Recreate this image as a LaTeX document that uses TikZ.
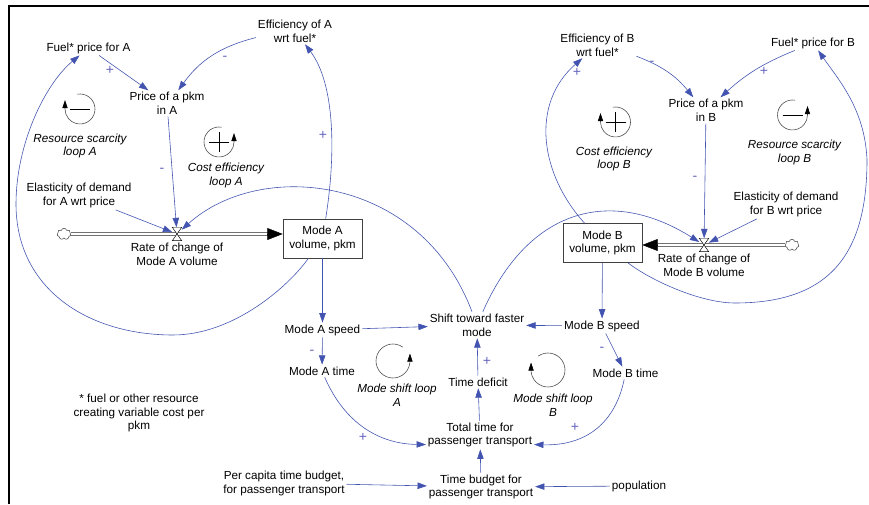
\documentclass[tikz,border=0pt]{standalone}
\usepackage{fontspec}
\setmainfont{Liberation Sans}
\usetikzlibrary{arrows.meta,shapes.symbols}
\definecolor{linkblue}{RGB}{66,84,176}
\definecolor{signblue}{RGB}{100,100,190}

\begin{document}
\begin{tikzpicture}[x=0.03cm, y=0.03cm,
    every node/.style={font=\fontsize{10}{11.9}\selectfont, align=center, inner sep=1.5pt},
    link/.style={draw=linkblue, line width=0.5pt, -{Triangle[length=8pt, width=5.5pt]}},
    sign/.style={text=signblue, font=\fontsize{12}{14}\selectfont},
    looplabel/.style={font=\fontsize{10}{11.9}\selectfont\itshape},
    loopline/.style={draw=black!70, line width=0.5pt, -{Triangle[length=7pt, width=4.5pt, color=black]}},
    stock/.style={draw=black!75, line width=0.5pt, minimum width=2.37cm, minimum height=1.17cm},
    pipe/.style={draw=black!85, line width=0.55pt, double=white, double distance=2.2pt},
    flowtip/.style={line width=0.4pt, -{Triangle[length=13pt, width=10pt]}},
    valve/.style={minimum width=0.27cm, minimum height=0.39cm, inner sep=0},
    source/.style={cloud, cloud puffs=7, aspect=1.2, draw=black!80, line width=0.4pt, minimum width=0.42cm, minimum height=0.34cm, inner sep=0}]

\useasboundingbox (0,0) rectangle (869,504);
\draw [line width=1.5pt] (9,0) -- (9,498) -- (869,498);

\node (fuelA) at (88.5,456) {Fuel* price for A};
\node (effA) at (295,473) {Efficiency of A\\wrt fuel*};
\node (priceA) at (167,400.5) {Price of a pkm\\in A};
\node (elastA) at (79,308.5) {Elasticity of demand\\for A wrt price};
\node [source] (cA) at (64,270) {};
\node [valve] (vA) at (177,270) {};
\node [stock] (volA) at (322.5,265.5) {Mode A\\volume, pkm};
\node [below] (rateA) at (vA.south) {Rate of change of\\Mode A volume};

\node (effB) at (597.5,459) {Efficiency of B\\wrt fuel*};
\node (fuelB) at (813,461) {Fuel* price for B};
\node (priceB) at (706,393.5) {Price of a pkm\\in B};
\node (elastB) at (786,299.5) {Elasticity of demand\\for B wrt price};
\node [source] (cB) at (792,259) {};
\node [valve] (vB) at (704,259) {};
\node [stock] (volB) at (602.5,261) {Mode B\\volume, pkm};
\node [below] (rateB) at (vB.south) {Rate of change of\\Mode B volume};

\node (speedA) at (322.5,174) {Mode A speed};
\node (timeA) at (322,133) {Mode A time};
\node (shift) at (477,179) {Shift toward faster\\mode};
\node (speedB) at (602,178) {Mode B speed};
\node (timeB) at (625.5,131) {Mode B time};
\node (deficit) at (478,122) {Time deficit};
\node (total) at (480,69) {Total time for\\passenger transport};
\node (budget) at (481,17) {Time budget for\\passenger transport};
\node (percap) at (284,21) {Per capita time budget,\\for passenger transport};
\node (pop) at (639,18) {population};
\node (note) at (139,91) {* fuel or other resource\\creating variable cost per\\pkm};

\coordinate (inA) at (cA -| volA.west);
\coordinate (inB) at (cB -| volB.east);
\draw [pipe, shorten >=12pt] (cA) -- (inA);
\draw [flowtip] ([xshift=-13pt]inA) -- (inA);
\draw [pipe, shorten >=12pt] (cB) -- (inB);
\draw [flowtip] ([xshift=13pt]inB) -- (inB);
\draw [fill=white, line width=0.4pt] (vA.north west) -- (vA.north east) -- (vA.south west) -- (vA.south east) -- cycle;
\draw [fill=white, line width=0.4pt] (vB.north west) -- (vB.north east) -- (vB.south west) -- (vB.south east) -- cycle;

\draw [link] (fuelA) -- (priceA);
\draw [link] (effA) to [bend right=20] (priceA);
\draw [link] (priceA) -- (vA);
\draw [link] (elastA) -- (vA);
\draw [link] (effB) to [bend left=15] (priceB);
\draw [link] (fuelB) to [bend right=10] (priceB);
\draw [link] (priceB) -- (vB);
\draw [link] (elastB) -- (vB);

\draw [link] (volA) -- (speedA);
\draw [link] (speedA) -- (timeA);
\draw [link] (speedA) -- (shift);
\draw [link] (volB) -- (speedB);
\draw [link] (speedB) -- (shift);
\draw [link] (speedB) -- (timeB);
\draw [link] (deficit) -- (shift);
\draw [link] (total) -- (deficit);
\draw [link] (budget) -- (total);
\draw [link] (percap) -- (budget);
\draw [link] (pop) -- (budget);
\draw [link] (timeA) .. controls (345,80) and (380,60) .. (total.190);
\draw [link] (timeB) .. controls (615,80) and (585,58) .. (total.-10);

\draw [link] (shift) .. controls (420,330) and (260,345) .. (vA);
\draw [link] (shift) .. controls (528,295) and (610,318) .. (vB);
\draw [link] (volA) .. controls (336,350) and (335,420) .. (effA);
\draw [link] (volB) .. controls (540,330) and (530,400) .. (effB);
\draw [link] (volA) .. controls (288,217) and (233,169) .. (173,169)
    .. controls (88,169) and (16,215) .. (16,300)
    .. controls (16,360) and (45,420) .. (fuelA);
\draw [link] (volB) .. controls (650,224) and (700,201) .. (735,201)
    .. controls (830,201) and (867,250) .. (867,344)
    .. controls (865,395) and (838,425) .. (fuelB);

\node [sign] at (110,434) {+};
\node [sign] at (225,446) {-};
\node [sign] at (323,369) {+};
\node [sign] at (162,334) {-};
\node [sign] at (577,432) {+};
\node [sign] at (652,441) {-};
\node [sign] at (764,433) {+};
\node [sign] at (695,326) {-};
\node [sign] at (312,152) {-};
\node [sign] at (602,155) {-};
\node [sign] at (487,143) {+};
\node [sign] at (363,67) {+};
\node [sign] at (575,77) {+};

\coordinate (rsA) at (80,395);
\coordinate (ceA) at (219,362);
\coordinate (ceB) at (615.5,382);
\coordinate (rsB) at (792.5,389);
\coordinate (msA) at (393,143);
\coordinate (msB) at (548,134);

\draw [loopline] (rsA) ++(100:15) arc [start angle=100, end angle=-180, radius=15] -- ++(0,9);
\draw [line width=0.8pt] (rsA) ++(-10,0) -- ++(20,0);
\draw [loopline] (ceA) ++(80:15) arc [start angle=80, end angle=360, radius=15] -- ++(0,9);
\draw [line width=0.8pt] (ceA) ++(-10,0) -- ++(20,0) (ceA) ++(0,-10) -- ++(0,20);
\draw [loopline] (ceB) ++(100:15) arc [start angle=100, end angle=-180, radius=15] -- ++(0,9);
\draw [line width=0.8pt] (ceB) ++(-10,0) -- ++(20,0) (ceB) ++(0,-10) -- ++(0,20);
\draw [loopline] (rsB) ++(80:15) arc [start angle=80, end angle=360, radius=15] -- ++(0,9);
\draw [line width=0.8pt] (rsB) ++(-10,0) -- ++(20,0);
\draw [loopline] (msA) ++(55:17) arc [start angle=55, end angle=355, radius=17] -- ++(0,9);
\draw [loopline] (msB) ++(125:17) arc [start angle=125, end angle=-175, radius=17] -- ++(0,9);

\node [looplabel] at (80,358) {Resource scarcity\\loop A};
\node [looplabel] at (226,328.5) {Cost efficiency\\loop A};
\node [looplabel] at (614,345) {Cost efficiency\\loop B};
\node [looplabel] at (794.5,351.5) {Resource scarcity\\loop B};
\node [looplabel] at (397,109) {Mode shift loop\\A};
\node [looplabel] at (553,99) {Mode shift loop\\B};

\end{tikzpicture}
\end{document}
